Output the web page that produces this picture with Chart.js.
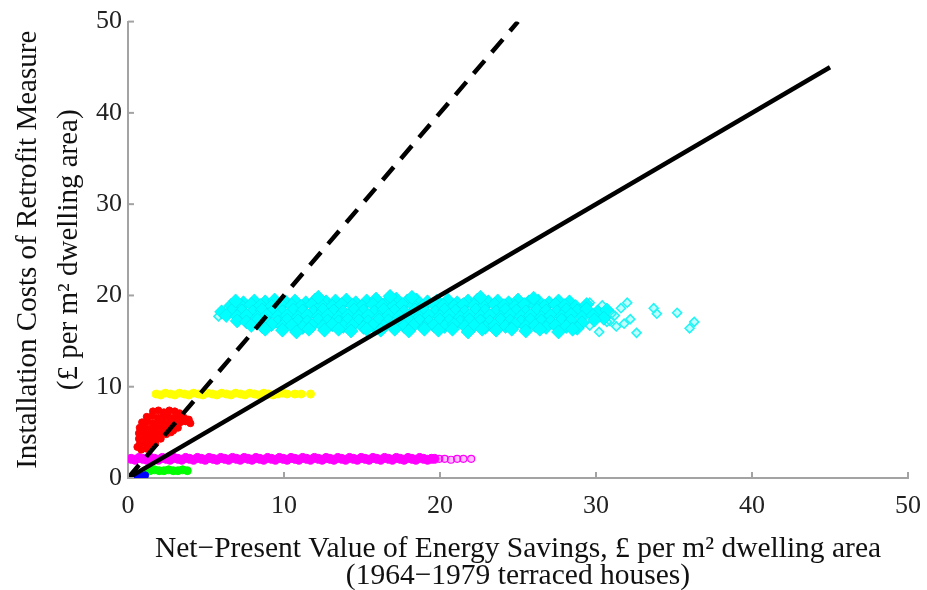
<!DOCTYPE html>
<html>
<head>
<meta charset="utf-8">
<script src="https://cdn.jsdelivr.net/npm/chart.js@4/dist/chart.umd.min.js"></script>
<style>
  html, body { margin: 0; padding: 0; background: #fff; }
</style>
</head>
<body>
<canvas id="chartRetrofit" width="927" height="590"></canvas>
<script>
// ---- datos ----
const axisTicks = [0, 10, 20, 30, 40, 50];

// linea de coste = ahorro (pendiente 1) y linea de pendiente 2
const solidLineX = [0, 45];
const solidLineY = [0, 45];
const dashedLineX = [0, 25];
const dashedLineY = [0, 50];

// nube cian (medida mas cara), nucleo denso
const cyanPts = [
  [7.4,19.2],[8.1,19.4],[8.8,19.3],[9.4,19.5],[10.1,19.3],[10.7,19.4],[11.4,19.2],[12.0,19.5],[12.7,19.3],[13.3,19.4],
  [14.0,19.5],[14.6,19.2],[15.3,19.4],[15.9,19.6],[16.6,19.3],[17.2,19.6],[17.9,19.4],[18.5,19.5],[19.2,19.3],[19.8,19.4],
  [20.5,19.5],[21.1,19.2],[21.8,19.4],[22.4,19.5],[23.1,19.3],[23.7,19.4],[24.4,19.2],[25.0,19.5],[25.7,19.3],[26.3,19.4],
  [27.0,19.2],[27.6,19.4],[28.3,19.3],
  [6.6,18.9],[7.3,18.8],[7.9,19.0],[8.5,18.9],[9.2,18.8],[9.8,19.0],[10.5,18.9],[11.1,18.8],[11.8,19.0],[12.4,18.9],
  [13.1,18.8],[13.7,19.0],[14.4,18.9],[15.0,18.8],[15.7,19.0],[16.3,18.9],[17.0,18.8],[17.6,19.0],[18.3,18.9],[18.9,18.8],
  [19.6,19.0],[20.2,18.9],[20.9,18.8],[21.5,19.0],[22.2,18.9],[22.8,18.8],[23.5,19.0],[24.1,18.9],[24.8,18.8],[25.4,19.0],
  [26.1,18.9],[26.7,18.8],[27.4,19.0],[28.0,18.9],[28.7,18.8],[29.4,19.0],
  [6.0,18.2],[6.7,18.4],[7.3,18.3],[8.0,18.2],[8.6,18.4],[9.3,18.3],[9.9,18.2],[10.6,18.4],[11.2,18.3],[11.9,18.2],
  [12.5,18.4],[13.2,18.3],[13.8,18.2],[14.5,18.4],[15.1,18.3],[15.8,18.2],[16.4,18.4],[17.1,18.3],[17.7,18.2],[18.4,18.4],
  [19.0,18.3],[19.7,18.2],[20.3,18.4],[21.0,18.3],[21.6,18.2],[22.3,18.4],[22.9,18.3],[23.6,18.2],[24.2,18.4],[24.9,18.3],
  [25.5,18.2],[26.2,18.4],[26.8,18.3],[27.5,18.2],[28.1,18.4],[28.8,18.3],[29.4,18.5],[30.1,18.2],[30.7,18.4],
  [6.3,17.8],[7.0,17.7],[7.6,17.8],[8.3,17.6],[8.9,17.8],[9.6,17.7],[10.2,17.8],[10.9,17.6],[11.5,17.8],[12.2,17.7],
  [12.8,17.8],[13.5,17.6],[14.1,17.8],[14.8,17.7],[15.4,17.8],[16.1,17.6],[16.7,17.8],[17.4,17.7],[18.0,17.8],[18.7,17.6],
  [19.3,17.8],[20.0,17.7],[20.6,17.8],[21.3,17.6],[21.9,17.8],[22.6,17.7],[23.2,17.8],[23.9,17.6],[24.5,17.8],[25.2,17.7],
  [25.8,17.8],[26.5,17.6],[27.1,17.8],[27.8,17.7],[28.4,17.9],[29.1,17.6],[29.8,17.8],[30.5,17.5],
  [7.0,17.2],[7.6,17.1],[8.3,17.3],[8.9,17.2],[9.6,17.1],[10.2,17.3],[10.9,17.2],[11.5,17.1],[12.2,17.3],[12.8,17.2],
  [13.5,17.1],[14.1,17.3],[14.8,17.2],[15.4,17.1],[16.1,17.3],[16.7,17.2],[17.4,17.1],[18.0,17.3],[18.7,17.2],[19.3,17.1],
  [20.0,17.3],[20.6,17.2],[21.3,17.1],[21.9,17.3],[22.6,17.2],[23.2,17.1],[23.9,17.3],[24.5,17.2],[25.2,17.1],[25.8,17.3],
  [26.5,17.2],[27.1,17.1],[27.8,17.3],[28.4,17.2],[29.1,17.0],[29.9,17.3],
  [7.9,16.7],[8.6,16.6],[9.2,16.8],[9.9,16.6],[10.5,16.7],[11.2,16.5],[11.8,16.7],[12.5,16.6],[13.1,16.8],[13.8,16.6],
  [14.4,16.7],[15.1,16.5],[15.7,16.7],[16.4,16.6],[17.0,16.8],[17.7,16.6],[18.3,16.7],[19.0,16.5],[19.6,16.7],[20.3,16.6],
  [20.9,16.8],[21.6,16.6],[22.2,16.7],[22.9,16.5],[23.5,16.7],[24.2,16.6],[24.8,16.8],[25.5,16.6],[26.1,16.7],[26.8,16.5],
  [27.4,16.7],[28.1,16.6],[28.8,16.4],
  [8.8,16.3],[9.9,16.2],[10.8,16.0],[11.6,16.3],[12.6,16.2],[13.5,16.3],[14.3,16.1],[15.3,16.3],[16.2,16.2],[17.1,16.3],
  [18.0,16.1],[19.0,16.3],[19.9,16.2],[20.8,16.3],[21.8,16.0],[22.7,16.3],[23.6,16.2],[24.6,16.3],[25.5,16.1],[26.4,16.3],
  [27.6,16.0],[28.5,16.3],
  [12.2,19.8],[16.8,19.9],[18.2,19.8],[22.6,19.8],[26.0,19.7],[6.9,19.4]
];
// puntos sueltos de la nube cian (bordes y cola derecha)
const cyanTail = [
  [5.8,17.7],[6.4,18.6],[29.6,19.2],[30.4,18.9],[30.9,17.2],[31.2,17.8],[29.6,16.7],[31.0,18.0],[31.6,18.6],
  [32.0,19.2],[32.2,17.4],[32.6,15.9],[31.3,16.6],[33.7,18.6],[33.9,18.0],[35.2,18.1],[36.3,17.1],[36.0,16.4],
  [30.2,16.0],[31.8,16.9],[30.7,17.1]
];

// banda amarilla
const yellowPts = [
  [1.8,9.2],[2.1,9.1],[2.4,9.3],[2.7,9.2],[3.0,9.1],[3.3,9.3],[3.6,9.2],[3.9,9.1],[4.2,9.3],[4.5,9.2],
  [4.8,9.1],[5.1,9.3],[5.4,9.2],[5.7,9.1],[6.0,9.3],[6.3,9.2],[6.6,9.1],[6.9,9.3],[7.2,9.2],[7.5,9.1],
  [7.8,9.3],[8.1,9.2],[8.4,9.1],[8.7,9.3],[9.0,9.2],[9.3,9.1],[9.6,9.2],[9.9,9.3],[10.2,9.2],
  [10.7,9.2],[11.1,9.2],[11.7,9.2]
];

// mancha roja
const redPts = [
  [1.6,7.3],[1.95,7.4],[2.3,7.2],[2.65,7.4],[3.0,7.3],[3.3,7.1],
  [1.2,6.7],[1.55,6.8],[1.9,6.6],[2.25,6.8],[2.6,6.7],[2.95,6.6],[3.3,6.8],[3.6,6.6],
  [0.9,6.1],[1.25,6.2],[1.6,6.0],[1.95,6.2],[2.3,6.1],[2.65,6.0],[3.0,6.2],[3.35,6.1],[3.7,6.2],[4.0,6.0],
  [0.75,5.5],[1.1,5.6],[1.45,5.4],[1.8,5.6],[2.15,5.5],[2.5,5.4],[2.85,5.6],[3.2,5.5],
  [0.7,4.9],[1.05,5.0],[1.4,4.8],[1.75,5.0],[2.1,4.9],[2.45,4.8],[2.75,5.0],
  [0.7,4.3],[1.05,4.4],[1.4,4.2],[1.75,4.4],[2.1,4.3],
  [0.75,3.7],[1.1,3.8],[1.45,3.6],[1.75,3.8],
  [0.85,3.1],[1.2,3.2],[3.9,6.4],[2.9,5.2],[0.6,3.4]
];

// banda magenta
const magentaPts = [
  [0.2,2.1],[0.45,2.0],[0.7,2.2],[0.95,2.1],[1.2,2.0],[1.45,2.2],[1.7,2.1],[1.95,2.0],[2.2,2.2],[2.45,2.1],
  [2.7,2.0],[2.95,2.2],[3.2,2.1],[3.45,2.0],[3.7,2.2],[3.95,2.1],[4.2,2.0],[4.45,2.2],[4.7,2.1],[4.95,2.0],
  [5.2,2.2],[5.45,2.1],[5.7,2.0],[5.95,2.2],[6.2,2.1],[6.45,2.0],[6.7,2.2],[6.95,2.1],[7.2,2.0],[7.45,2.2],
  [7.7,2.1],[7.95,2.0],[8.2,2.2],[8.45,2.1],[8.7,2.0],[8.95,2.2],[9.2,2.1],[9.45,2.0],[9.7,2.2],[9.95,2.1],
  [10.2,2.0],[10.45,2.2],[10.7,2.1],[10.95,2.0],[11.2,2.2],[11.45,2.1],[11.7,2.0],[11.95,2.2],[12.2,2.1],[12.45,2.0],
  [12.7,2.2],[12.95,2.1],[13.2,2.0],[13.45,2.2],[13.7,2.1],[13.95,2.0],[14.2,2.2],[14.45,2.1],[14.7,2.0],[14.95,2.2],
  [15.2,2.1],[15.45,2.0],[15.7,2.2],[15.95,2.1],[16.2,2.0],[16.45,2.2],[16.7,2.1],[16.95,2.0],[17.2,2.2],[17.45,2.1],
  [17.7,2.0],[17.95,2.2],[18.2,2.1],[18.45,2.0],[18.7,2.2],[18.95,2.1],[19.2,2.0],[19.45,2.1],[19.65,2.1]
];
const magentaTail = [[19.95,2.1],[20.3,2.1],[20.7,2.0],[21.1,2.1],[21.5,2.1],[22.0,2.1]];

// verde y azul, pegados al origen
const greenPts = [[1.1,0.8],[1.4,0.8],[1.7,0.9],[2.0,0.8],[2.3,0.8],[2.6,0.9],[2.9,0.8],[3.2,0.8],[3.5,0.9],[3.8,0.8]];
const bluePts = [[0.3,0.2],[0.6,0.3],[0.9,0.2],[1.1,0.3]];

const toXY = pts => pts.map(p => ({ x: p[0], y: p[1] }));
const zipXY = (xs, ys) => xs.map((x, i) => ({ x: x, y: ys[i] }));

const serif = "'Liberation Serif', 'DejaVu Serif', serif";
const axisGrey = "#a3a3a3";

// marcas de escala hacia dentro (estilo MATLAB)
const inwardTicks = {
    id: "inwardTicks",
    afterDraw(chart) {
        const ctx = chart.ctx;
        const xs = chart.scales.x, ys = chart.scales.y;
        const area = chart.chartArea;
        ctx.save();
        ctx.strokeStyle = axisGrey;
        ctx.lineWidth = 2;
        axisTicks.forEach(v => {
            const px = xs.getPixelForValue(v);
            ctx.beginPath();
            ctx.moveTo(px, area.bottom);
            ctx.lineTo(px, area.bottom - 6);
            ctx.stroke();
            const py = ys.getPixelForValue(v);
            ctx.beginPath();
            ctx.moveTo(area.left, py);
            ctx.lineTo(area.left + 6, py);
            ctx.stroke();
        });
        ctx.restore();
    }
};

const scatterSet = (pts, color, style, radius, order) => ({
    data: toXY(pts),
    pointStyle: style,
    pointRadius: radius,
    backgroundColor: color,
    borderColor: color,
    borderWidth: 1,
    order: order
});

new Chart(document.getElementById("chartRetrofit"), {
    type: "scatter",
    data: {
        datasets: [
            {
                data: zipXY(solidLineX, solidLineY),
                showLine: true,
                borderColor: "#000",
                borderWidth: 4.5,
                pointRadius: 0,
                order: 0
            },
            {
                data: zipXY(dashedLineX, dashedLineY),
                showLine: true,
                borderColor: "#000",
                borderWidth: 4.5,
                borderDash: [17, 11],
                pointRadius: 0,
                order: 0
            },
            {
                data: toXY(cyanPts),
                pointStyle: "rectRot",
                pointRadius: 7,
                backgroundColor: "#00ffff",
                borderColor: "rgba(0,225,235,0.6)",
                borderWidth: 1,
                order: 2
            },
            {
                data: toXY(cyanTail),
                pointStyle: "rectRot",
                pointRadius: 4.5,
                backgroundColor: "rgba(0,255,255,0.25)",
                borderColor: "#22f4f4",
                borderWidth: 1.6,
                order: 2
            },
            scatterSet(yellowPts, "#ffff00", "circle", 4, 2),
            scatterSet(redPts, "#ff0000", "circle", 3.5, 2),
            scatterSet(magentaPts, "#ff00ff", "circle", 4.5, 2),
            {
                data: toXY(magentaTail),
                pointStyle: "circle",
                pointRadius: 3.5,
                backgroundColor: "rgba(255,0,255,0.25)",
                borderColor: "#ff00ff",
                borderWidth: 1.2,
                order: 2
            },
            scatterSet(greenPts, "#00ff00", "circle", 4, 2),
            scatterSet(bluePts, "#0000ff", "circle", 3.5, 1)
        ]
    },
    options: {
        responsive: false,
        animation: false,
        layout: { padding: { top: 21, right: 19, left: 0, bottom: 0 } },
        plugins: { legend: { display: false }, tooltip: { enabled: false } },
        scales: {
            x: {
                type: "linear",
                min: 0,
                max: 50,
                afterFit: s => { s.height = 112; },
                afterBuildTicks: s => { s.ticks = axisTicks.map(v => ({ value: v })); },
                // la separacion de las etiquetas va en tickLength (transparente) para no recortar el area
                grid: { display: true, drawOnChartArea: false, drawTicks: true, tickLength: 13, tickColor: "rgba(0,0,0,0)" },
                border: { display: true, color: axisGrey, width: 2 },
                ticks: {
                    padding: 0,
                    maxRotation: 0,
                    autoSkip: false,
                    color: "#222",
                    font: { family: serif, size: 26 }
                },
                title: {
                    display: true,
                    text: ["Net\u2212Present Value of Energy Savings, \u00a3 per m\u00b2 dwelling area",
                           "(1964\u22121979 terraced houses)"],
                    color: "#111",
                    padding: { top: 0, bottom: 0 },
                    font: { family: serif, size: 29.5, lineHeight: "27px" }
                }
            },
            y: {
                type: "linear",
                min: 0,
                max: 50,
                afterFit: s => { s.width = 128; },
                afterBuildTicks: s => { s.ticks = axisTicks.map(v => ({ value: v })); },
                grid: { display: true, drawOnChartArea: false, drawTicks: false },
                border: { display: true, color: axisGrey, width: 2 },
                ticks: {
                    padding: 6,
                    autoSkip: false,
                    color: "#222",
                    font: { family: serif, size: 26 }
                },
                title: {
                    display: true,
                    text: ["Installation Costs of Retrofit Measure", "(\u00a3 per m\u00b2 dwelling area)"],
                    color: "#111",
                    padding: { top: 8, bottom: 0 },
                    font: { family: serif, size: 29, lineHeight: "41px" }
                }
            }
        }
    },
    plugins: [inwardTicks]
});
</script>
</body>
</html>
